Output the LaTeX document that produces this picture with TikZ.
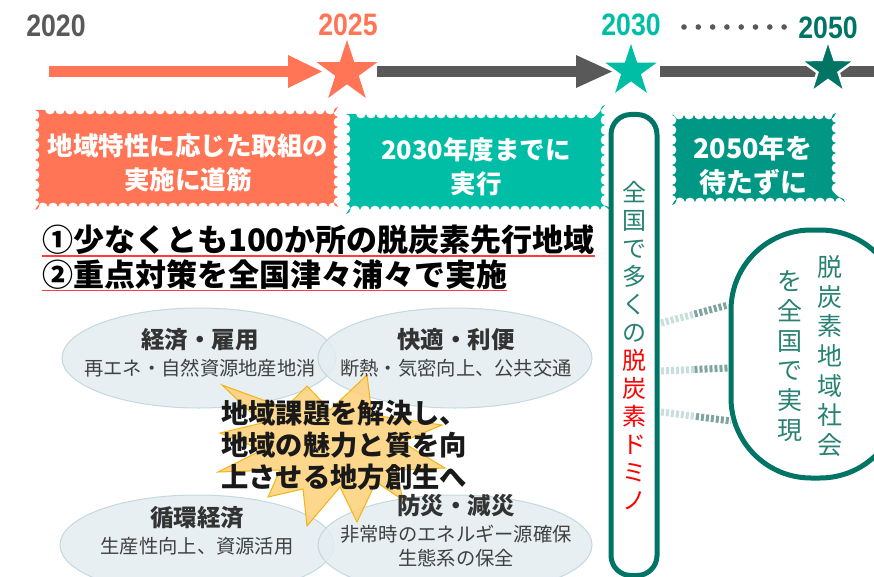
\documentclass[tikz,border=0pt]{standalone}
\usepackage{fontspec}
\setmainfont{Liberation Sans}
\newfontfamily\jp{Noto Sans CJK JP}
\newfontfamily\yr{Liberation Sans}
\usetikzlibrary{shapes.geometric,decorations.pathmorphing,calc}
\definecolor{coral}{RGB}{255,117,85}
\definecolor{tealA}{RGB}{0,190,165}
\definecolor{tealB}{RGB}{0,152,132}
\definecolor{tealC}{RGB}{0,117,102}
\definecolor{grayA}{RGB}{89,89,89}
\definecolor{txtteal}{RGB}{40,130,115}
\definecolor{ellfill}{RGB}{228,237,240}
\definecolor{elldraw}{RGB}{196,216,222}
\definecolor{burstfill}{RGB}{252,208,120}
\definecolor{burstdraw}{RGB}{245,180,20}
\definecolor{dashlight}{RGB}{200,222,218}
\definecolor{dashdark}{RGB}{125,165,157}
\definecolor{ulred}{RGB}{255,60,60}
\tikzset{
  yeartxt/.style={font=\yr\bfseries\fontsize{31}{31}\selectfont, xscale=0.86, inner sep=0},
  starnode/.style={star, star points=5, star point ratio=2.6, inner sep=0},
  wavy/.style={decorate, decoration={bumps, segment length=20pt, amplitude=4.5pt}},
  boxtxt/.style={text=white, align=center, font=\jp\bfseries\fontsize{25.5}{34}\selectfont},
  ultxt/.style={font=\jp\bfseries\fontsize{31}{31}\selectfont, inner sep=0, anchor=base west},
  ell/.style={ellipse, fill=ellfill, draw=elldraw, line width=1pt, fill opacity=0.85, minimum width=274pt, minimum height=100pt},
  elltitle/.style={font=\jp\bfseries\fontsize{23.5}{23.5}\selectfont, text=black!80, inner sep=0},
  ellsub/.style={font=\jp\fontsize{19.3}{24}\selectfont, text=black!75, inner sep=0, align=center},
  vtxt/.style={align=center, inner sep=0},
  hatch/.style={line width=7pt, dash pattern=on 3pt off 2pt},
}
\begin{document}
\begin{tikzpicture}[x=1pt,y=-1pt]
\useasboundingbox (0,0) rectangle (874,577);
\fill[white] (0,0) rectangle (874,577);

% ---- years
\node[yeartxt, text=grayA] (y2020) at (56,26) {2020};
\node[yeartxt, text=coral] (y2025) at (348,25) {2025};
\node[yeartxt, text=tealA] (y2030) at (631,25) {2030};
\node[yeartxt, text=tealC] (y2050) at (828,28) {2050};
\foreach \i in {0,...,7}{
  \fill[grayA] (684+\i*14.3,27) circle (2.8);
}

% ---- timeline arrows
\fill[coral] (49,66) rectangle (290,77);
\fill[coral] (288,55) -- (322,71.5) -- (288,88) -- cycle;
\fill[grayA] (377,66) rectangle (578,77);
\fill[grayA] (576,55) -- (612,71.5) -- (576,88) -- cycle;
\fill[grayA] (660,66) rectangle (874,77);
\node[starnode, fill=coral, minimum size=64pt] (s2025) at (347,72) {};
\node[starnode, fill=tealA, minimum size=54pt] (s2030) at (631,71) {};
\node[starnode, fill=tealC, draw=white, line width=2.5pt, minimum size=58pt] (s2050) at (828,69) {};

% ---- wavy boxes
\fill[coral, wavy] (35,110) rectangle (338,207);
\node[boxtxt] (b1) at (188,163) {地域特性に応じた取組の\\実施に道筋};
\fill[tealA, wavy] (346,114) rectangle (605,210);
\node[boxtxt] (b2) at (476,167) {2030年度までに\\実行};
\fill[tealB, wavy] (672,115) rectangle (836,202);
\node[boxtxt, font=\jp\bfseries\fontsize{27}{34}\selectfont] (b3) at (753,165) {2050年を\\待たずに};

% ---- underlined headings
\node[ultxt] (l1) at (42,251) {①少なくとも100か所の脱炭素先行地域};
\draw[ulred, line width=1.5pt] ([yshift=-5pt]l1.base west) -- ([yshift=-5pt]l1.base east);
\node[ultxt] (l2) at (42,286) {②重点対策を全国津々浦々で実施};
\draw[ulred, line width=1.5pt] ([yshift=-4.5pt]l2.base west) -- ([yshift=-4.5pt]l2.base east);

% ---- ellipses
\node[ell] (e1) at (199,358) {};
\node[ell] (e2) at (455,358) {};
\node[ell] (e3) at (197,545) {};
\node[ell] (e4) at (455,545) {};

% ---- burst
\filldraw[fill=burstfill, draw=burstdraw, line width=1pt, fill opacity=0.85]
  (367,375) -- (372,415) -- (442,425) -- (402,442) -- (445,468) -- (396,470)
  -- (403,500) -- (376,482) -- (357,522) -- (340,487) -- (307,526) -- (303,489)
  -- (268,497) -- (280,470) -- (218,472) -- (262,450) -- (220,433) -- (262,423)
  -- (222,385) -- (285,408) -- (307,386) -- (330,410) -- cycle;

% ---- ellipse texts
\node[elltitle] (t1) at (200,340) {経済・雇用};
\node[ellsub] (u1) at (200,368) {再エネ・自然資源地産地消};
\node[elltitle] (t2) at (456,340) {快適・利便};
\node[ellsub] (u2) at (456,368) {断熱・気密向上、公共交通};
\node[elltitle] (t3) at (197,518) {循環経済};
\node[ellsub] (u3) at (197,546) {生産性向上、資源活用};
\node[elltitle] (t4) at (456,506) {防災・減災};
\node[ellsub] (u4) at (456,546) {非常時のエネルギー源確保\\生態系の保全};

% ---- centre message
\node[anchor=west, align=left, inner sep=0, font=\jp\bfseries\fontsize{27.3}{32}\selectfont, text=black!90] (msg) at (221,445)
  {地域課題を解決し、\\地域の魅力と質を向\\上させる地方創生へ};

% ---- domino column
\node[draw=tealC, line width=5pt, fill=white, rounded corners=20pt, minimum width=46pt, minimum height=461pt, inner sep=0] (domino) at (634,345) {};
\node[vtxt, font=\jp\fontsize{24}{28}\selectfont, text=txtteal] (dtxt) at (634,346)
  {全\\国\\で\\多\\く\\の\\\textcolor{red}{脱}\\\textcolor{red}{炭}\\\textcolor{red}{素}\\\textcolor{red}{ド}\\\textcolor{red}{ミ}\\\textcolor{red}{ノ}};

% ---- capsule
\draw[tealC, line width=5pt, rounded corners=80pt] (731,230) rectangle (900,478);
\node[vtxt, font=\jp\fontsize{25}{29.7}\selectfont, text=txtteal] (ctxt1) at (830,356) {脱\\炭\\素\\地\\域\\社\\会};
\node[vtxt, font=\jp\fontsize{25}{29.7}\selectfont, text=txtteal] (ctxt2) at (790,356) {を\\全\\国\\で\\実\\現};

% ---- hatched connectors
\coordinate (a1) at (661,323); \coordinate (c1) at (728,305);
\coordinate (a2) at (661,371); \coordinate (c2) at (728,368);
\coordinate (a3) at (661,412); \coordinate (c3) at (731,421);
\foreach \a/\c in {a1/c1,a2/c2,a3/c3}{
  \draw[hatch, dashlight] (\a) -- ($(\a)!0.5!(\c)$);
  \draw[hatch, dashdark] ($(\a)!0.5!(\c)$) -- (\c);
}
\end{tikzpicture}
\end{document}
